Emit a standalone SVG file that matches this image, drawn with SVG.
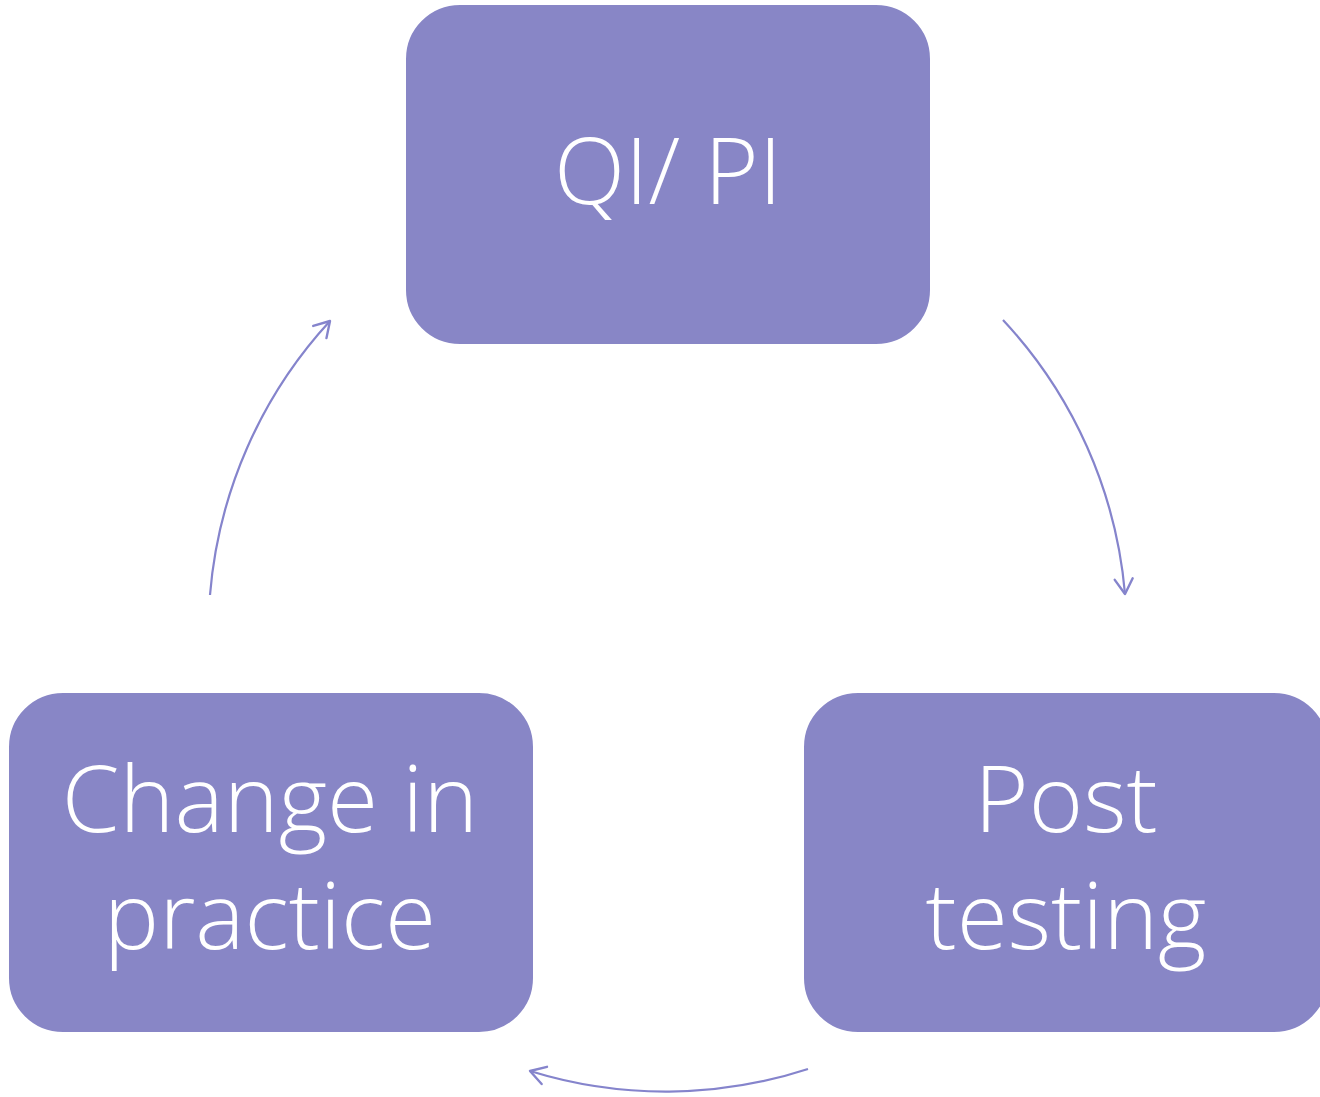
<svg xmlns="http://www.w3.org/2000/svg" width="1320" height="1097" viewBox="0 0 1320 1097">
<defs>
<style>
.box{fill:#8886C6;stroke:#ffffff;stroke-width:2}
.lbl{font-family:"Open Sans","Noto Sans",sans-serif;font-size:93px;font-weight:350;fill:#ffffff;text-anchor:middle}
.conn{fill:none;stroke:#8584CC;stroke-width:2.2}
</style>
<marker id="ah" viewBox="-20 -20 40 40" markerWidth="40" markerHeight="40" refX="0" refY="0" orient="auto" markerUnits="userSpaceOnUse">
<path d="M-15,-9 L0,0 L-15,9" fill="none" stroke="#8584CC" stroke-width="2.4" stroke-linecap="round" stroke-linejoin="round"/>
</marker>
</defs>
<rect width="1320" height="1097" fill="#ffffff"/>
<g id="node-qipi">
<rect class="box" x="405" y="4" width="526" height="341" rx="55"/>
<text class="lbl" x="668" y="204">QI/ PI</text>
</g>
<g id="node-post">
<rect class="box" x="803" y="692" width="526" height="341" rx="55"/>
<text class="lbl" x="1066" y="832">Post</text>
<text class="lbl" x="1066" y="949">testing</text>
</g>
<g id="node-change">
<rect class="box" x="8" y="692" width="526" height="341" rx="55"/>
<text class="lbl" x="270" y="832">Change in</text>
<text class="lbl" x="270" y="949">practice</text>
</g>
<g id="connectors">
<path class="conn" d="M1003,320 A459,459 0 0 1 1125,594" marker-end="url(#ah)"/>
<path class="conn" d="M808,1069 A459,459 0 0 1 530,1071" marker-end="url(#ah)"/>
<path class="conn" d="M210,595 A459,459 0 0 1 330,321" marker-end="url(#ah)"/>
</g>
</svg>
